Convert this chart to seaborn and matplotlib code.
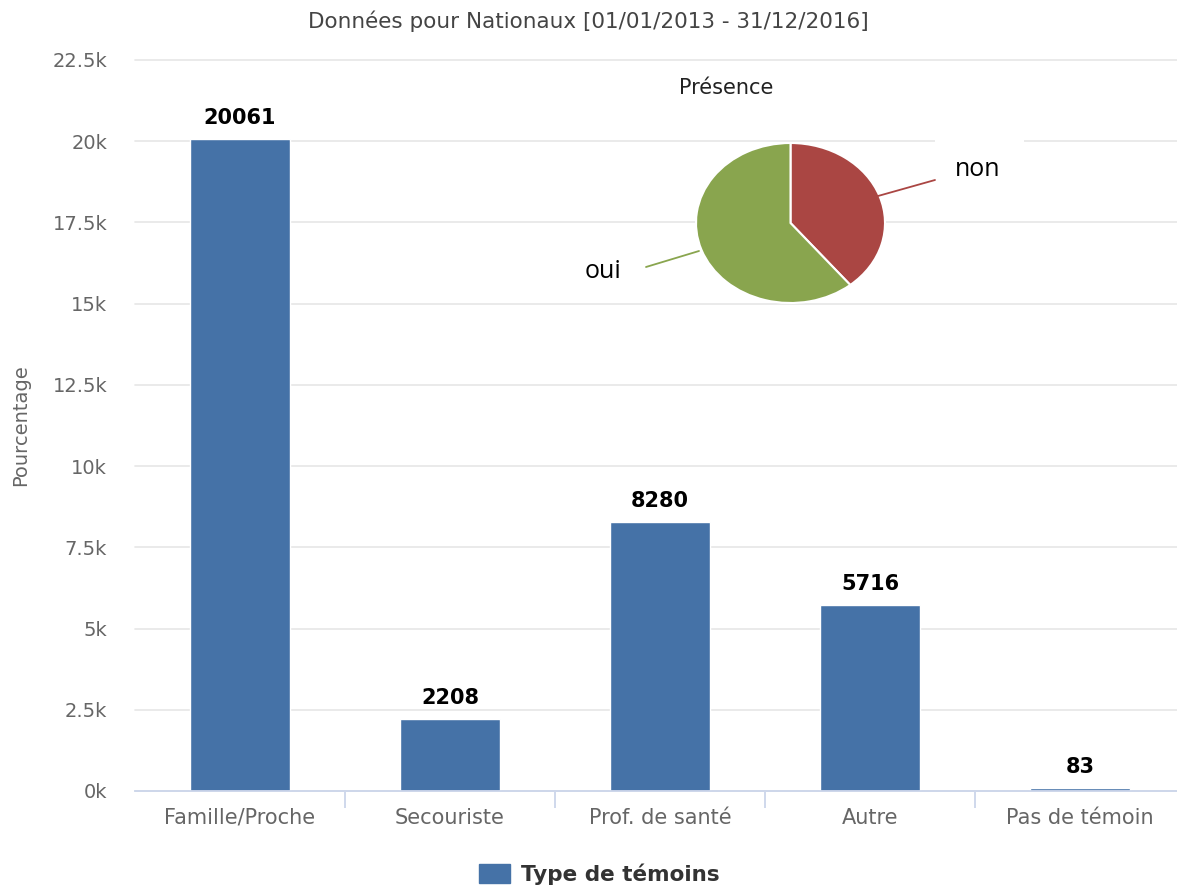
import numpy as np
import pandas as pd
import matplotlib
matplotlib.use('Agg')
import matplotlib.pyplot as plt
from matplotlib.patches import Patch, Rectangle
from matplotlib.lines import Line2D
from matplotlib.ticker import FixedLocator, FuncFormatter
import seaborn as sns

# data
categories = ['Famille/Proche', 'Secouriste', 'Prof. de santé', 'Autre', 'Pas de témoin']
counts = [20061, 2208, 8280, 5716, 83]
presence_labels = ['non', 'oui']
presence_share = [39.1, 60.9]

bar_color = '#4572A7'
pie_colors = ['#AA4643', '#89A54E']
grid_color = '#e6e6e6'
axis_color = '#ccd6eb'
label_grey = '#666666'

sns.set_style('white')
plt.rcParams['font.family'] = ['DejaVu Sans']

W, H = 1177, 885
fig = plt.figure(figsize=(W / 100, H / 100), dpi=100)

def fx(px):
    return px / W

def fy(py):
    return 1 - py / H

# main bar axes (right edge runs past the image, as in the reference)
ax = fig.add_axes([fx(135), fy(791), fx(1185) - fx(135), fy(60) - fy(791)])
df = pd.DataFrame({'type': categories, 'n': counts})
sns.barplot(data=df, x='type', y='n', color=bar_color, saturation=1,
            width=0.476, edgecolor='white', linewidth=1, ax=ax, zorder=2)

ax.set_ylim(0, 22500)
ax.set_xlim(-0.5, len(categories) - 0.5)
ax.yaxis.set_major_locator(FixedLocator(np.arange(0, 22501, 2500)))
ax.yaxis.set_major_formatter(FuncFormatter(lambda v, p: f'{v / 1000:g}k'))
ax.grid(axis='y', color=grid_color, linewidth=1.2, zorder=0)
ax.set_axisbelow(True)
for g in ax.get_ygridlines():
    g.set_clip_on(False)
for s in ['top', 'right', 'left']:
    ax.spines[s].set_visible(False)
ax.spines['bottom'].set_color(axis_color)
ax.spines['bottom'].set_linewidth(1.3)

ax.tick_params(axis='y', length=0, pad=20, labelsize=14, labelcolor=label_grey)
ax.tick_params(axis='x', which='major', length=0, pad=12, labelsize=15,
               labelcolor=label_grey)
ax.xaxis.set_minor_locator(FixedLocator(np.arange(0.5, len(categories) - 1, 1.0)))
ax.tick_params(axis='x', which='minor', bottom=True, length=12, width=1.3,
               color=axis_color, direction='out')
ax.set_xlabel('')
ax.set_ylabel('Pourcentage', fontsize=14, color=label_grey)
ax.yaxis.set_label_coords(-0.1, 0.5)

for c in ax.containers:
    ax.bar_label(c, labels=[str(v) for v in counts], padding=8,
                 fontsize=15, fontweight='bold', color='black')

# title
fig.text(fx(588), fy(21), 'Données pour Nationaux [01/01/2013 - 31/12/2016]',
         ha='center', va='center', fontsize=15.5, color='#444444')

# legend at the bottom
ax.legend(handles=[Patch(facecolor=bar_color, edgecolor=bar_color)],
          labels=['Type de témoins'], loc='center',
          bbox_to_anchor=(fx(599), fy(874)), bbox_transform=fig.transFigure,
          frameon=False, handlelength=1.45, handleheight=1.0, handletextpad=0.5,
          prop={'weight': 'bold', 'size': 15.5}, labelcolor='#333333')

# inset pie
ax_pie = fig.add_axes([fx(696), fy(303), fx(885) - fx(696), fy(143) - fy(303)])
ax_pie.pie(presence_share, colors=pie_colors, startangle=90, counterclock=False,
           wedgeprops=dict(edgecolor='white', linewidth=1.5))
ax_pie.set_aspect('auto')
ax_pie.set_xlim(-1, 1)
ax_pie.set_ylim(-1, 1)
ax_pie.axis('off')

fig.text(fx(726), fy(88), 'Présence', ha='center', va='center',
         fontsize=15, color='#222222')

# white box behind "non" label
fig.add_artist(Rectangle((fx(935), fy(200)), fx(1024) - fx(935), fy(135) - fy(200),
                         transform=fig.transFigure, facecolor='white',
                         edgecolor='none', zorder=1))

# leader lines and labels
fig.add_artist(Line2D([fx(878), fx(935)], [fy(196), fy(180)],
                      transform=fig.transFigure, color=pie_colors[0], linewidth=1.3))
fig.add_artist(Line2D([fx(699), fx(646)], [fy(251), fy(267)],
                      transform=fig.transFigure, color=pie_colors[1], linewidth=1.3))
fig.text(fx(955), fy(169), presence_labels[0], ha='left', va='center',
         fontsize=18, family=['Open Sans', 'DejaVu Sans'], color='black')
fig.text(fx(621), fy(272), presence_labels[1], ha='right', va='center',
         fontsize=18, family=['Open Sans', 'DejaVu Sans'], color='black')

fig.savefig('out.png', dpi=100)
